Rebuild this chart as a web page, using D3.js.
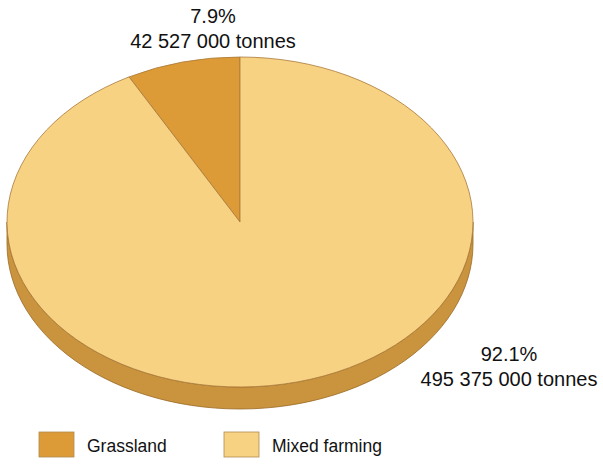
<!DOCTYPE html>
<html>
<head>
<meta charset="utf-8">
<style>
  body { margin: 0; background: #fff; }
  svg text { font-family: "Liberation Sans", Arial, sans-serif; fill: #111; }
</style>
<script src="https://d3js.org/d3.v7.min.js"></script>
</head>
<body>
<svg width="603" height="464"></svg>
<script>
var categories = ["Grassland", "Mixed farming"];
var shares = [7.9, 92.1];
var tonnes = ["42 527 000", "495 375 000"];
var colors = ["#dc9b36", "#f6d282"];
var sideColors = ["#b9802a", "#c9943d"];

var svg = d3.select("svg"),
    cx = 240, cy = 222, rx = 233, ry = 165, depth = 22;

var pie = d3.pie().sort(null).value(function(d) { return d; })
    .startAngle(-2 * Math.PI * shares[0] / 100)
    .endAngle(2 * Math.PI - 2 * Math.PI * shares[0] / 100);
var arcs = pie(shares);

function px(a) { return cx + rx * Math.sin(a); }
function py(a, off) { return cy - ry * Math.cos(a) + (off || 0); }

// side wall, only the front half (right -> bottom -> left) is visible
var side = svg.append("g");
arcs.forEach(function(d, i) {
  var segs = [[d.startAngle, d.endAngle], [d.startAngle + 2 * Math.PI, d.endAngle + 2 * Math.PI]];
  segs.forEach(function(s) {
    var a0 = Math.max(s[0], Math.PI / 2), a1 = Math.min(s[1], 3 * Math.PI / 2);
    if (a1 <= a0) return;
    var pts = d3.range(0, 61).map(function(k) { return a0 + (a1 - a0) * k / 60; });
    var top = pts.map(function(a) { return [px(a), py(a)]; });
    var bot = pts.slice().reverse().map(function(a) { return [px(a), py(a, depth)]; });
    side.append("path")
      .attr("d", d3.line()(top.concat(bot)) + "Z")
      .attr("fill", sideColors[i])
      .attr("stroke", "#9a6a25")
      .attr("stroke-width", 0.8);
  });
});

// top face
var arc = d3.arc().innerRadius(0).outerRadius(rx);
svg.append("g")
    .attr("transform", "translate(" + cx + "," + cy + ") scale(1," + (ry / rx) + ")")
  .selectAll("path")
  .data(arcs)
  .enter().append("path")
    .attr("d", arc)
    .attr("fill", function(d, i) { return colors[i]; })
    .attr("stroke", "#a9793a")
    .attr("stroke-width", 0.8)
    .attr("vector-effect", "non-scaling-stroke");

// labels
var labels = [
  { x: 213, y: 23 },
  { x: 509, y: 361 }
];
labels.forEach(function(l, i) {
  svg.append("text").attr("x", l.x).attr("y", l.y)
    .attr("text-anchor", "middle").style("font-size", "20px")
    .text(shares[i] + "%");
  svg.append("text").attr("x", l.x).attr("y", l.y + 24.5)
    .attr("text-anchor", "middle").style("font-size", "20px")
    .text(tonnes[i] + " tonnes");
});

// legend
var legendX = [39, 224];
var legend = svg.append("g");
categories.forEach(function(c, i) {
  legend.append("rect")
    .attr("x", legendX[i]).attr("y", 432)
    .attr("width", 35).attr("height", 25)
    .attr("fill", colors[i])
    .attr("stroke", "#b08a50").attr("stroke-width", 0.8);
  legend.append("text")
    .attr("x", legendX[i] + 48).attr("y", 452)
    .style("font-size", "17.5px")
    .text(c);
});
</script>
</body>
</html>
